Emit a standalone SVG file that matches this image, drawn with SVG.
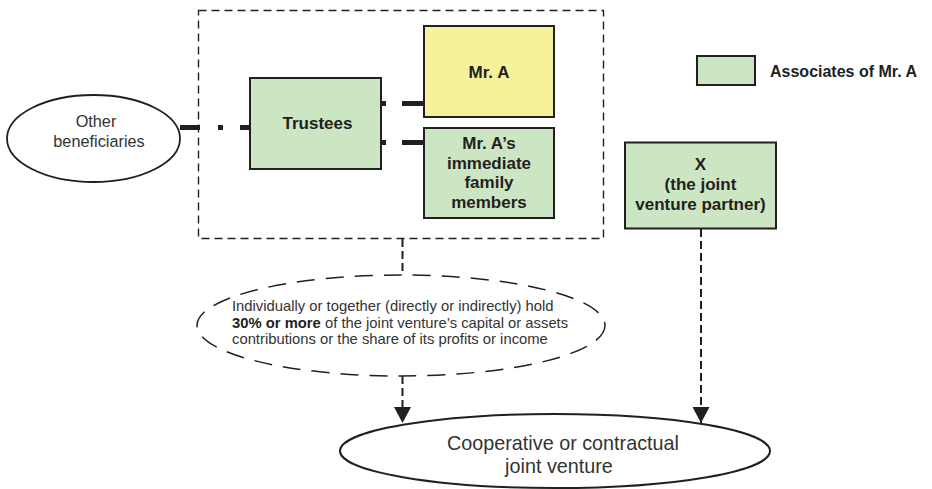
<svg xmlns="http://www.w3.org/2000/svg" width="932" height="489" viewBox="0 0 932 489">
<defs>
<style>
.box{stroke:#231f20;stroke-width:2}
.green{fill:#cce5c3}
.yellow{fill:#f6f29c}
.bl{font-family:"Liberation Sans",Arial,sans-serif;font-weight:bold;font-size:17px;fill:#231f20;text-anchor:middle}
.leg{font-family:"Liberation Sans",Arial,sans-serif;font-weight:bold;font-size:16px;fill:#231f20;text-anchor:start}
.reg{font-family:"Liberation Sans",Arial,sans-serif;fill:#333;}
.thick{stroke:#231f20;stroke-width:5;fill:none}
.dash{stroke:#231f20;stroke-width:2;fill:none;stroke-dasharray:8 4}
</style>
<marker id="arr" viewBox="0 0 16 17" refX="16" refY="8.5" markerWidth="16" markerHeight="17" markerUnits="userSpaceOnUse" orient="auto">
<path d="M0,0 L16,8.5 L0,17 Z" fill="#231f20"/>
</marker>
</defs>
<rect width="932" height="489" fill="#fff"/>

<g id="group-box">
<rect x="198.5" y="10.5" width="405" height="228" fill="none" stroke="#231f20" stroke-width="1.4" stroke-dasharray="8 5"/>
</g>

<g id="connectors">
<path class="thick" d="M180,127.5 H250" stroke-dasharray="20 18 5 17 10"/>
<path class="thick" d="M381,103.5 H424" stroke-dasharray="5 16 22"/>
<path class="thick" d="M381,142.5 H424" stroke-dasharray="5 16 22"/>
<path class="dash" d="M402.5,239 V275"/>
<path class="dash" d="M402.5,376 V423" marker-end="url(#arr)"/>
<path class="dash" d="M701,229 V423" marker-end="url(#arr)"/>
</g>

<g id="other-beneficiaries">
<ellipse cx="93.5" cy="138.5" rx="86.5" ry="43.5" fill="#fff" stroke="#231f20" stroke-width="1.8"/>
<text class="reg" font-size="16.3" text-anchor="middle" x="96" y="127" fill="#444">Other</text>
<text class="reg" font-size="16.3" text-anchor="middle" x="99" y="147" fill="#444">beneficiaries</text>
</g>

<g id="trustees">
<rect class="box green" x="250" y="78" width="131" height="91"/>
<text class="bl" x="317.5" y="129">Trustees</text>
</g>

<g id="mr-a">
<rect class="box yellow" x="424" y="26" width="130" height="91"/>
<text class="bl" x="489" y="78">Mr. A</text>
</g>

<g id="family">
<rect class="box green" x="424" y="128" width="130" height="90"/>
<text class="bl" x="489" y="149">Mr. A’s</text>
<text class="bl" x="489" y="168.5">immediate</text>
<text class="bl" x="489" y="188">family</text>
<text class="bl" x="489" y="207.5">members</text>
</g>

<g id="legend">
<rect class="box green" x="697" y="56" width="58" height="29"/>
<text class="leg" x="770" y="77">Associates of Mr. A</text>
</g>

<g id="x-partner">
<rect class="box green" x="625" y="142.5" width="151" height="86"/>
<text class="bl" x="700.5" y="170">X</text>
<text class="bl" x="700.5" y="190">(the joint</text>
<text class="bl" x="700.5" y="210">venture partner)</text>
</g>

<g id="condition">
<ellipse cx="401" cy="325.5" rx="204" ry="50.5" fill="none" stroke="#231f20" stroke-width="1.5" stroke-dasharray="18 11"/>
<text class="reg" font-size="14.8" x="232" y="311">Individually or together (directly or indirectly) hold</text>
<text class="reg" font-size="14.8" x="232" y="327.5"><tspan font-weight="bold" fill="#231f20">30% or more</tspan> of the joint venture’s capital or assets</text>
<text class="reg" font-size="14.8" x="232" y="344">contributions or the share of its profits or income</text>
</g>

<g id="joint-venture">
<ellipse cx="555" cy="451" rx="215" ry="37" fill="#fff" stroke="#231f20" stroke-width="2"/>
<text class="reg" font-size="19.8" text-anchor="middle" x="563" y="450">Cooperative or contractual</text>
<text class="reg" font-size="19.8" text-anchor="middle" x="559" y="473">joint venture</text>
</g>
</svg>
